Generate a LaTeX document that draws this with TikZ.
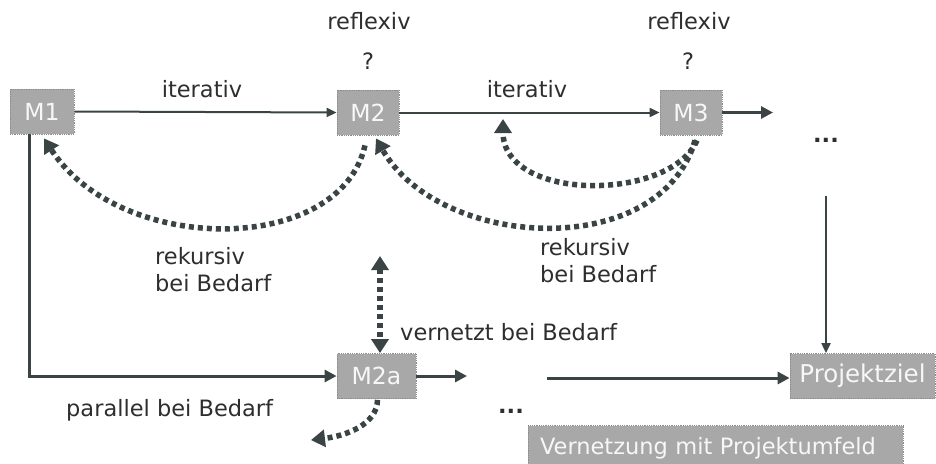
\documentclass[tikz,border=0pt]{standalone}
\usepackage{fontspec}
\setmainfont{DejaVu Sans}
\usetikzlibrary{arrows.meta}
\definecolor{ink}{HTML}{3A4444}
\definecolor{boxfill}{HTML}{A8A8A8}
\definecolor{boxedge}{HTML}{8C8C8C}
\definecolor{txt}{HTML}{2E2E2E}
\tikzset{
  stage/.style={draw=boxedge, densely dotted, line width=0.8pt, fill=boxfill,
    text=white!94!gray, inner sep=0pt, minimum height=45pt,
    font=\fontsize{23.5}{27}\selectfont},
  lbl/.style={text=txt, inner sep=0pt, font=\fontsize{22.5}{27}\selectfont},
  thinflow/.style={draw=ink, line width=2pt, -{Triangle[length=10pt,width=9pt]}},
  thickflow/.style={draw=ink, line width=3pt, -{Triangle[length=12pt,width=12pt]}},
  backflow/.style={draw=ink, line width=5.5pt, dash pattern=on 5pt off 4pt,
    -{Triangle[length=14pt,width=17pt]}},
  bothflow/.style={draw=ink, line width=5.5pt, dash pattern=on 5pt off 4pt,
    {Triangle[length=14pt,width=17pt]}-{Triangle[length=14pt,width=17pt]}},
}
\begin{document}
\begin{tikzpicture}[x=1pt,y=-1pt]
\clip (0,0) rectangle (936,463);

% process stages
\node[stage, minimum width=64pt] (m1) at (42,111.5) {M1};
\node[stage, minimum width=62pt] (m2) at (368,112.5) {M2};
\node[stage, minimum width=62pt] (m3) at (691,112.5) {M3};
\node[stage, minimum width=79pt] (m2a) at (376.5,376) {M2a};
\node[stage, minimum width=145pt, font=\fontsize{24.5}{28}\selectfont] (ziel) at (862.5,376) {Projektziel};
\node[stage, inner xsep=12pt, text width=351pt, align=left,
      font=\fontsize{22.5}{26}\selectfont] (umfeld) at (715.5,448) {Vernetzung mit Projektumfeld};

% free ends
\coordinate (m3out) at (773,112.5);
\coordinate (vtop) at (826,196);
\coordinate (m2aout) at (467,376);
\coordinate (hstart) at (547,378);
\coordinate (vnet) at (380,256);
\coordinate (refl) at (503,119);
\coordinate (par) at (311,440);

% labels
\node[lbl] (it1) at (202,89) {iterativ};
\node[lbl] (it2) at (527,89) {iterativ};
\node[lbl] (rf2) at (369,21) {reflexiv};
\node[lbl] (q2) at (368,61) {?};
\node[lbl] (rf3) at (689,21) {reflexiv};
\node[lbl] (q3) at (688,61) {?};
\node[lbl, anchor=west, align=left] (rk1) at (155,270) {rekursiv\\bei Bedarf};
\node[lbl, anchor=west, align=left] (rk2) at (540,261) {rekursiv\\bei Bedarf};
\node[lbl, anchor=west] (vb) at (400,332) {vernetzt bei Bedarf};
\node[lbl, anchor=west] (pb) at (66,410) {parallel bei Bedarf};
\node[lbl, font=\fontsize{22.5}{27}\selectfont\bfseries] (dots1) at (826,140) {...};
\node[lbl, font=\fontsize{22.5}{27}\selectfont\bfseries] (dots2) at (511,411) {...};

% main flow
\draw[thinflow] (m1.east) -- (m2.west);
\draw[thinflow] (m2.east) -- (m3.west);
\draw[thickflow] (m3.east) -- (m3out);
\draw[thinflow] (vtop) -- (vtop |- ziel.north);
\draw[thickflow] ([xshift=-13pt]m1.south) |- (m2a.west);
\draw[thickflow] (m2a.east) -- (m2aout);
\draw[thickflow] (hstart) -- (hstart -| ziel.west);

% feedback loops
\draw[backflow] ([xshift=-3pt,yshift=-10pt]m2.south)
  .. controls (340,256) and (120,256) .. ([xshift=2pt,yshift=-4pt]m1.south);
\draw[backflow] ([xshift=4pt,yshift=-5pt]m3.south)
  .. controls (660,262) and (440,250) .. ([xshift=8pt,yshift=-3pt]m2.south);
\draw[backflow] ([xshift=6pt,yshift=-5pt]m3.south)
  .. controls (670,202) and (503,202) .. (refl);
\draw[bothflow] (vnet) -- (vnet |- m2a.north);
\draw[backflow] ([xshift=1pt,yshift=-1pt]m2a.south)
  .. controls (377,425) and (345,436) .. (par);
\end{tikzpicture}
\end{document}
